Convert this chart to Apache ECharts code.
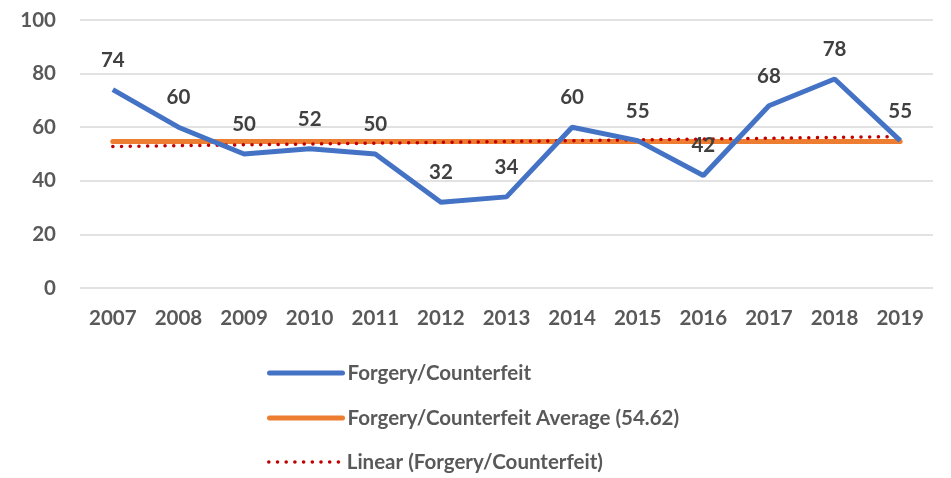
<!DOCTYPE html>
<html>
<head>
<meta charset="utf-8">
<script src="https://cdn.jsdelivr.net/npm/echarts@6/dist/echarts.min.js"></script>
<style>
  html, body { margin: 0; padding: 0; background: #fff; }
  #chart { width: 951px; height: 478px; }
</style>
</head>
<body>
<div id="chart"></div>
<script>
// data
var years = ['2007', '2008', '2009', '2010', '2011', '2012', '2013', '2014', '2015', '2016', '2017', '2018', '2019'];
var forgery = [74, 60, 50, 52, 50, 32, 34, 60, 55, 42, 68, 78, 55];
var average = 54.62;
// trend line ends (first and last year)
var trendStart = 52.8;
var trendEnd = 56.5;
var yTicks = [0, 20, 40, 60, 80, 100];

var names = ['Forgery/Counterfeit', 'Forgery/Counterfeit Average (54.62)', 'Linear (Forgery/Counterfeit)'];

var avgData = years.map(function () { return average; });
var trendData = years.map(function (y, i) {
  if (i === 0) return trendStart;
  if (i === years.length - 1) return trendEnd;
  return null;
});

var font = 'Lato, "Open Sans", sans-serif';
var txt = { color: '#595959', fontSize: 20.5, fontWeight: 'bold', fontFamily: font };

var dotted = [0.1, 8.6];

function legendAt(name, top, lineWidth, lineType) {
  return {
    orient: 'vertical',
    left: 267,
    top: top,
    padding: 0,
    itemWidth: 73,
    itemHeight: 14,
    itemStyle: { opacity: 0 },
    lineStyle: { width: lineWidth, type: lineType, cap: 'round' },
    textStyle: Object.assign({ lineHeight: 24 }, txt),
    data: [name]
  };
}

var chart = echarts.init(document.getElementById('chart'));

chart.setOption({
  animation: false,
  backgroundColor: '#ffffff',
  textStyle: { fontFamily: font },
  grid: { left: 80, right: 18, top: 20, bottom: 190 },
  xAxis: {
    type: 'category',
    data: years,
    boundaryGap: true,
    axisLine: { show: false },
    axisTick: { show: false },
    axisLabel: Object.assign({ margin: 20 }, txt)
  },
  yAxis: {
    type: 'value',
    min: yTicks[0],
    max: yTicks[yTicks.length - 1],
    interval: 20,
    axisLine: { show: false },
    axisTick: { show: false },
    axisLabel: Object.assign({ margin: 24 }, txt),
    splitLine: { lineStyle: { color: '#d9d9d9', width: 1.5 } }
  },
  legend: [
    legendAt(names[0], 361, 5, 'solid'),
    legendAt(names[1], 406, 5, 'solid'),
    legendAt(names[2], 450, 3.5, dotted)
  ],
  series: [
    {
      name: names[1],
      type: 'line',
      data: avgData,
      symbol: 'none',
      lineStyle: { color: '#ED7D31', width: 5, cap: 'round' },
      itemStyle: { color: '#ED7D31' },
      z: 2
    },
    {
      name: names[2],
      type: 'line',
      data: trendData,
      connectNulls: true,
      symbol: 'none',
      lineStyle: { color: '#C00000', width: 3.5, type: dotted, cap: 'round' },
      itemStyle: { color: '#C00000' },
      z: 3
    },
    {
      name: names[0],
      type: 'line',
      data: forgery,
      symbol: 'circle',
      symbolSize: 0.1,
      lineStyle: { color: '#4472C4', width: 5 },
      itemStyle: { color: '#4472C4' },
      label: Object.assign({
        show: true,
        position: 'top',
        distance: 19
      }, txt, { color: '#404040' }),
      z: 4
    }
  ]
});
</script>
</body>
</html>
